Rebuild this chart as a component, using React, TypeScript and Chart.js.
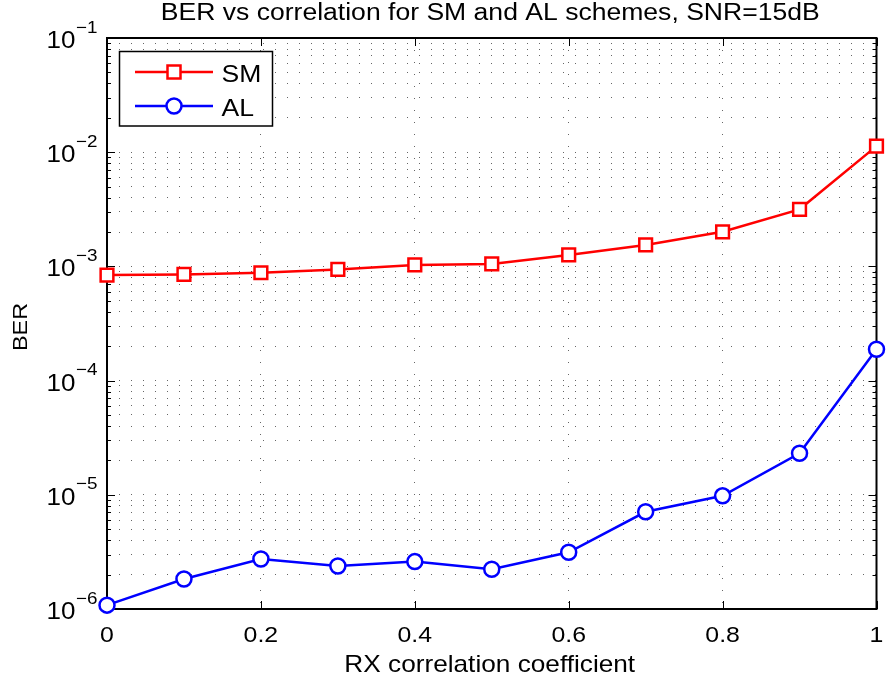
import React, { useEffect, useRef } from 'react';
import { Chart, registerables } from 'chart.js';

Chart.register(...registerables);

// ---- data ----
const rho = [0, 0.1, 0.2, 0.3, 0.4, 0.5, 0.6, 0.7, 0.8, 0.9, 1.0];
const berSM = [8.4e-4, 8.5e-4, 8.8e-4, 9.4e-4, 1.03e-3, 1.05e-3, 1.26e-3, 1.54e-3, 2.01e-3, 3.16e-3, 1.13e-2];
const berAL = [1.08e-6, 1.83e-6, 2.74e-6, 2.38e-6, 2.6e-6, 2.23e-6, 3.14e-6, 7.1e-6, 9.8e-6, 2.31e-5, 1.88e-4];
const seriesNames = ['SM', 'AL'];
const seriesColors = ['#ff0000', '#0000ff'];
const xTickValues = [0, 0.2, 0.4, 0.6, 0.8, 1];
const xTickLabels = ['0', '0.2', '0.4', '0.6', '0.8', '1'];
const yDecades = [-6, -5, -4, -3, -2, -1];
const yMinorMultipliers = [2, 3, 4, 5, 6, 7, 8, 9];
const titleText = 'BER vs correlation for SM and AL schemes, SNR=15dB';
const xTitleText = 'RX correlation coefficient';
const yTitleText = 'BER';

const FONT = '"Liberation Sans", Arial, Helvetica, sans-serif';
const SX = 1.13;

const yGridValues: number[] = [];
yDecades.forEach((d, i) => {
  yGridValues.push(Math.pow(10, d));
  if (i < yDecades.length - 1) {
    yMinorMultipliers.forEach((m) => yGridValues.push(m * Math.pow(10, d)));
  }
});

function txt(
  ctx: CanvasRenderingContext2D,
  s: string,
  x: number,
  y: number,
  size: number,
  align: CanvasTextAlign,
  sx = SX,
  rot = 0
) {
  ctx.save();
  ctx.translate(x, y);
  if (rot) ctx.rotate(rot);
  ctx.scale(sx, 1);
  ctx.font = `${size}px ${FONT}`;
  ctx.textAlign = align;
  ctx.textBaseline = 'alphabetic';
  ctx.fillStyle = '#000';
  ctx.fillText(s, 0, 0);
  ctx.restore();
}

const decorPlugin = {
  id: 'matlabDecor',
  beforeDatasetsDraw(chart: any) {
    const { ctx, chartArea } = chart;
    const { left, right, top, bottom } = chartArea;
    const ys = chart.scales.y;
    const xs = chart.scales.x;
    ctx.save();
    ctx.strokeStyle = '#000';
    ctx.lineWidth = 1;
    yGridValues.forEach((v) => {
      const py = Math.round(ys.getPixelForValue(v)) + 0.5;
      const isMajor = Math.abs(Math.log10(v) - Math.round(Math.log10(v))) < 1e-9;
      const len = isMajor ? 8 : 4;
      ctx.beginPath();
      ctx.moveTo(left, py);
      ctx.lineTo(left + len, py);
      ctx.moveTo(right, py);
      ctx.lineTo(right - len, py);
      ctx.stroke();
    });
    xTickValues.forEach((v) => {
      const px = Math.round(xs.getPixelForValue(v)) + 0.5;
      ctx.beginPath();
      ctx.moveTo(px, bottom);
      ctx.lineTo(px, bottom - 8);
      ctx.moveTo(px, top);
      ctx.lineTo(px, top + 8);
      ctx.stroke();
    });
    ctx.lineWidth = 2;
    ctx.strokeRect(left, top, right - left, bottom - top);
    ctx.restore();
  },
  afterDatasetsDraw(chart: any) {
    const { ctx } = chart;
    const bx = 119.5, by = 51.5, bw = 153, bh = 74.5;
    ctx.save();
    ctx.fillStyle = '#fff';
    ctx.fillRect(bx, by, bw, bh);
    ctx.strokeStyle = '#000';
    ctx.lineWidth = 1.5;
    ctx.strokeRect(bx, by, bw, bh);
    const rowsY = [72, 106];
    seriesNames.forEach((name, i) => {
      const y = rowsY[i];
      ctx.strokeStyle = seriesColors[i];
      ctx.lineWidth = 2.5;
      ctx.beginPath();
      ctx.moveTo(135, y);
      ctx.lineTo(213, y);
      ctx.stroke();
      ctx.fillStyle = '#fff';
      if (i === 0) {
        ctx.fillRect(167.5, y - 6.5, 13, 13);
        ctx.strokeRect(167.5, y - 6.5, 13, 13);
      } else {
        ctx.beginPath();
        ctx.arc(174, y, 7.5, 0, Math.PI * 2);
        ctx.fill();
        ctx.stroke();
      }
      txt(ctx, name, 221.5, y + 10, 23.5, 'left');
    });
    ctx.restore();
  },
  afterDraw(chart: any) {
    const { ctx, chartArea } = chart;
    const { left, right, bottom } = chartArea;
    const ys = chart.scales.y;
    const xs = chart.scales.x;
    const cx = (left + right) / 2;
    txt(ctx, titleText, cx - 1.5, 19.5, 23.5, 'center');
    xTickValues.forEach((v, i) => {
      txt(ctx, xTickLabels[i], xs.getPixelForValue(v), bottom + 33, 22, 'center');
    });
    txt(ctx, xTitleText, cx - 2, bottom + 63, 23.2, 'center');
    txt(ctx, yTitleText, 26.7, 327, 19.5, 'center', 1.2, -Math.PI / 2);
    yDecades.forEach((d) => {
      const py = ys.getPixelForValue(Math.pow(10, d));
      const exp = '\u2212' + String(-d);
      ctx.save();
      ctx.font = `16.7px ${FONT}`;
      const ew = ctx.measureText(exp).width * SX;
      ctx.restore();
      const rx = 97.5;
      txt(ctx, exp, rx, py - 5.5, 16.7, 'right');
      txt(ctx, '10', rx - ew - 0.5, py + 9.9, 23, 'right');
    });
  },
};

export default function App() {
  const ref = useRef<HTMLCanvasElement | null>(null);
  useEffect(() => {
    if (!ref.current) return;
    const chart = new Chart(ref.current, {
      type: 'line',
      data: {
        datasets: [
          {
            label: seriesNames[0],
            data: rho.map((x, i) => ({ x, y: berSM[i] })),
            borderColor: seriesColors[0],
            backgroundColor: '#fff',
            pointBackgroundColor: '#fff',
            pointBorderColor: seriesColors[0],
            borderWidth: 2.5,
            pointBorderWidth: 2.5,
            pointStyle: 'rect',
            pointRadius: 9,
            tension: 0,
            clip: false as any,
          },
          {
            label: seriesNames[1],
            data: rho.map((x, i) => ({ x, y: berAL[i] })),
            borderColor: seriesColors[1],
            backgroundColor: '#fff',
            pointBackgroundColor: '#fff',
            pointBorderColor: seriesColors[1],
            borderWidth: 2.5,
            pointBorderWidth: 2.5,
            pointStyle: 'circle',
            pointRadius: 7.5,
            tension: 0,
            clip: false as any,
          },
        ],
      },
      options: {
        responsive: false,
        animation: false,
        events: [],
        layout: { padding: { top: 38, right: 5, bottom: 0, left: 0 } },
        plugins: {
          legend: { display: false },
          title: { display: false },
          tooltip: { enabled: false },
        },
        scales: {
          x: {
            type: 'linear',
            min: 0,
            max: 1,
            ticks: { display: false },
            afterBuildTicks: (s: any) => {
              s.ticks = xTickValues.map((v) => ({ value: v }));
            },
            afterFit: (s: any) => {
              s.height = 75;
              s.paddingLeft = 0;
              s.paddingRight = 0;
            },
            grid: { color: 'rgba(0,0,0,0.6)', lineWidth: 1, drawTicks: false },
            border: { display: false, dash: [1, 11] },
          },
          y: {
            type: 'logarithmic',
            min: 1e-6,
            max: 1e-1,
            ticks: { display: false },
            afterBuildTicks: (s: any) => {
              s.ticks = yGridValues.map((v) => ({ value: v }));
            },
            afterFit: (s: any) => {
              s.width = 107;
              s.paddingTop = 0;
              s.paddingBottom = 0;
            },
            grid: { color: 'rgba(0,0,0,0.6)', lineWidth: 1, drawTicks: false },
            border: { display: false, dash: [1, 11] },
          },
        },
      },
      plugins: [decorPlugin],
    } as any);
    return () => chart.destroy();
  }, []);
  return (
    <div style={{ position: 'absolute', left: 0, top: 0, width: 888, height: 684, background: '#fff' }}>
      <canvas ref={ref} width={888} height={684} style={{ display: 'block' }} />
    </div>
  );
}
